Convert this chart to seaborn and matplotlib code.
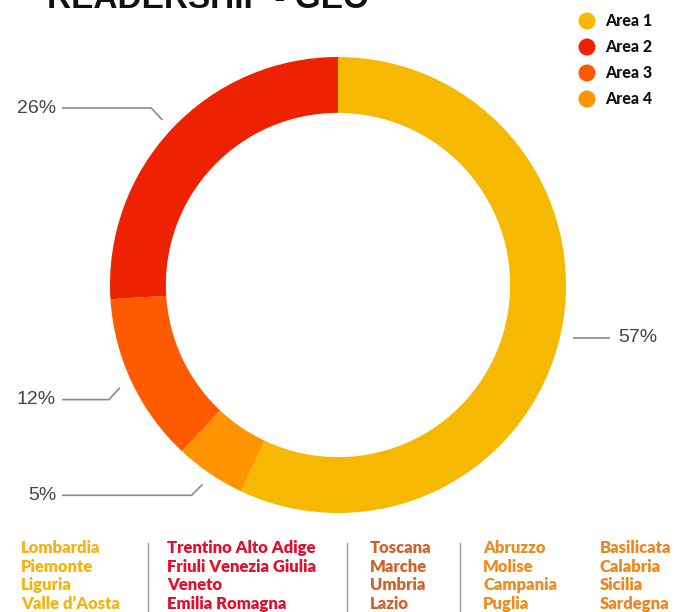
import numpy as np
import matplotlib
matplotlib.use("Agg")
import matplotlib.pyplot as plt
import seaborn as sns

# data
areas = ["Area 1", "Area 4", "Area 3", "Area 2"]   # clockwise from top
shares = [57, 5, 12, 26]
legend_names = ["Area 1", "Area 2", "Area 3", "Area 4"]
colors = {"Area 1": "#F6B800", "Area 2": "#EE2200", "Area 3": "#FF5A00", "Area 4": "#FF9300"}

regions = [
    ["Lombardia", "Piemonte", "Liguria", "Valle d\u2019Aosta"],
    ["Trentino Alto Adige", "Friuli Venezia Giulia", "Veneto", "Emilia Romagna"],
    ["Toscana", "Marche", "Umbria", "Lazio"],
    ["Abruzzo", "Molise", "Campania", "Puglia"],
    ["Basilicata", "Calabria", "Sicilia", "Sardegna"],
]
region_colors = ["#F7B20E", "#E2102E", "#D4602A", "#F08C1E", "#F0861A"]
title = "READERSHIP - GEO"

sns.set_theme(style="white")
plt.rcParams["font.family"] = ["Lato", "DejaVu Sans"]

W, H = 674, 612
fig = plt.figure(figsize=(W / 100, H / 100), dpi=100)
ax = fig.add_axes([0, 0, 1, 1])

# pixel-like coordinates, y up
cx, cy, R = 338, H - 285, 228
pal = sns.color_palette([colors[a] for a in areas])
wedges, _ = ax.pie(shares, colors=pal, startangle=90, counterclock=False,
                   center=(cx, cy), radius=R,
                   wedgeprops=dict(width=R * 0.245, linewidth=0))
ax.set_xlim(0, W)
ax.set_ylim(0, H)
ax.set_aspect("auto")
ax.axis("off")

# leader lines + labels
line_kw = dict(color="#8a8a8a", lw=1.2, solid_capstyle="butt")
lab_kw = dict(color="#444444", fontsize=14, family=["Liberation Sans", "DejaVu Sans"], va="center")
for w, s in zip(wedges, shares):
    ang = np.deg2rad((w.theta1 + w.theta2) / 2)
    ax_, ay_ = cx + 241 * np.cos(ang), cy + 241 * np.sin(ang)
    if np.cos(ang) > 0:
        ax.plot([ax_, ax_ + 37], [ay_, ay_], **line_kw)
        ax.text(ax_ + 45, ay_, f"{s}%", ha="left", **lab_kw)
    else:
        up = 1 if np.sin(ang) > 0 and s > 20 else -1
        ex, ey = ax_ - 11, ay_ + up * 12
        if s < 10:
            ex, ey = ax_ - 11, ay_ - 11
        ax.plot([ax_, ex, 62], [ay_, ey, ey], **line_kw)
        ax.text(56, ey, f"{s}%", ha="right", **lab_kw)

# legend
for i, name in enumerate(legend_names):
    y = H - (21 + i * 26)
    ax.scatter([587], [y], s=150, color=colors[name], edgecolor="none")
    ax.text(605, y, name, fontsize=11.5, fontweight="black", color="#111111", va="center")

# title (cut off at top as in the source)
ax.text(47, H - 8, title, fontsize=24, fontweight="bold", color="#111111",
        family=["Liberation Sans", "DejaVu Sans"], va="baseline", clip_on=False)

# region columns
col_x = [21, 167, 370, 483, 600]
for x, names, c in zip(col_x, regions, region_colors):
    for j, n in enumerate(names):
        ax.text(x, H - (548 + j * 18.7), n, color=c, fontsize=12, fontweight="heavy", va="center")
for sx in [148, 347, 460]:
    ax.plot([sx, sx], [H - 543, 0], color="#9a9a9a", lw=1)

fig.savefig("out.png", dpi=100)
